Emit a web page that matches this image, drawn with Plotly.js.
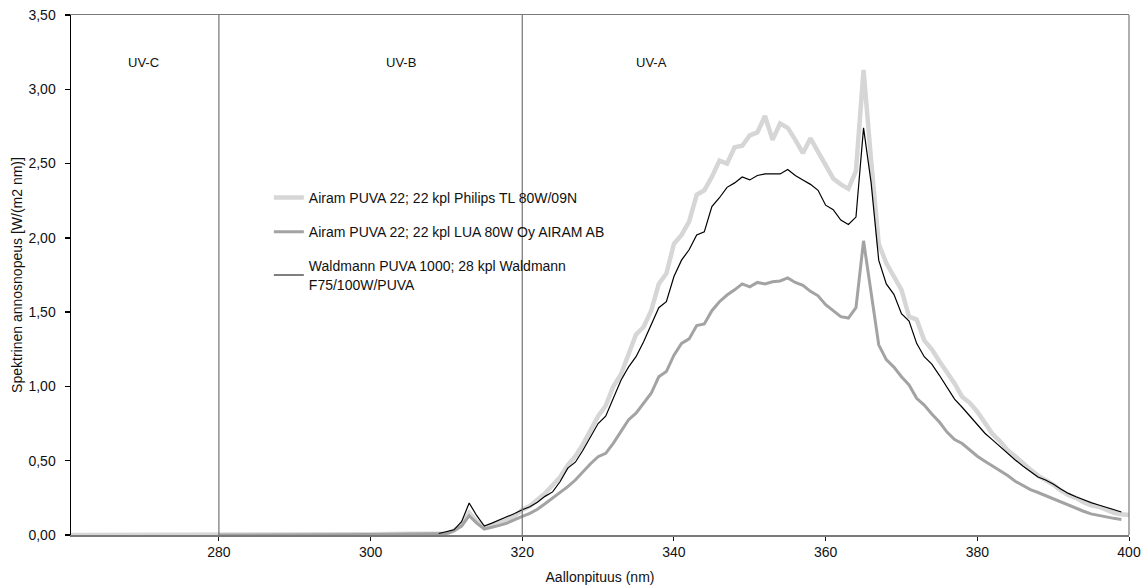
<!DOCTYPE html>
<html>
<head>
<meta charset="utf-8">
<script src="https://cdn.plot.ly/plotly-3.0.1.min.js"></script>
<style>
  html, body { margin: 0; padding: 0; background: #ffffff; }
  #chart { width: 1148px; height: 587px; }
</style>
</head>
<body>
<div id="chart"></div>
<script>
// Wavelength grid (nm) of the measured UV spectra
const wavelength = [
  309, 310, 311, 312, 313, 314, 315, 316, 317, 318, 319, 320, 321, 322, 323, 324, 325, 326, 327, 328,
  329, 330, 331, 332, 333, 334, 335, 336, 337, 338, 339, 340, 341, 342, 343, 344, 345, 346, 347, 348,
  349, 350, 351, 352, 353, 354, 355, 356, 357, 358, 359, 360, 361, 362, 363, 364, 365, 366, 367, 368,
  369, 370, 371, 372, 373, 374, 375, 376, 377, 378, 379, 380, 381, 382, 383, 384, 385, 386, 387, 388,
  389, 390, 391, 392, 393, 394, 395, 396, 397, 398, 399, 400
];

// Short-wave tails where the spectra are practically zero
const philipsTailNm = [260, 270, 280, 290, 300, 305];
const philipsTail   = [0, 0, 0, 0.003, 0.005, 0.008];
const luaTailNm     = [280, 290, 300, 305];
const luaTail       = [0, 0, 0.003, 0.006];

// Airam PUVA 22; 22 kpl Philips TL 80W/09N  (309–400 nm)
const philipsTL = [
  0.01, 0.01, 0.03, 0.07, 0.15, 0.09, 0.05, 0.06, 0.08, 0.10, 0.13, 0.17, 0.195, 0.235, 0.28, 0.335, 0.39, 0.47, 0.53, 0.61,
  0.70, 0.80, 0.87, 1.00, 1.08, 1.22, 1.35, 1.40, 1.51, 1.69, 1.76, 1.96, 2.02, 2.11, 2.29, 2.32, 2.41, 2.52, 2.50, 2.61,
  2.62, 2.69, 2.71, 2.82, 2.66, 2.77, 2.74, 2.66, 2.57, 2.67, 2.58, 2.50, 2.40, 2.36, 2.33, 2.45, 3.13, 2.52, 1.96, 1.83,
  1.74, 1.65, 1.47, 1.45, 1.31, 1.25, 1.17, 1.10, 1.02, 0.93, 0.89, 0.83, 0.75, 0.68, 0.63, 0.57, 0.53, 0.48, 0.44, 0.40,
  0.37, 0.34, 0.30, 0.27, 0.25, 0.22, 0.20, 0.19, 0.17, 0.15, 0.14, 0.135
];

// Airam PUVA 22; 22 kpl LUA 80W Oy AIRAM AB  (309–399 nm)
const luaLamp = [
  0.01, 0.01, 0.03, 0.06, 0.13, 0.08, 0.04, 0.05, 0.065, 0.08, 0.10, 0.125, 0.146, 0.173, 0.21, 0.247, 0.29, 0.325, 0.37, 0.426,
  0.48, 0.527, 0.55, 0.617, 0.695, 0.774, 0.82, 0.886, 0.954, 1.065, 1.10, 1.21, 1.29, 1.32, 1.41, 1.42, 1.51, 1.57, 1.615, 1.65,
  1.69, 1.67, 1.70, 1.69, 1.705, 1.71, 1.73, 1.70, 1.68, 1.64, 1.61, 1.55, 1.51, 1.47, 1.46, 1.53, 1.98, 1.63, 1.28, 1.18,
  1.13, 1.065, 1.01, 0.92, 0.875, 0.815, 0.76, 0.693, 0.643, 0.616, 0.573, 0.53, 0.496, 0.465, 0.435, 0.40, 0.362, 0.333, 0.306, 0.286,
  0.265, 0.245, 0.22, 0.20, 0.179, 0.16, 0.142, 0.131, 0.12, 0.112, 0.105
];

// Waldmann PUVA 1000; 28 kpl Waldmann F75/100W/PUVA  (309–399 nm)
const waldmann = [
  0.01, 0.02, 0.035, 0.09, 0.215, 0.13, 0.06, 0.08, 0.10, 0.12, 0.145, 0.17, 0.19, 0.22, 0.26, 0.29, 0.36, 0.45, 0.49, 0.57,
  0.66, 0.75, 0.80, 0.92, 1.04, 1.13, 1.20, 1.30, 1.41, 1.53, 1.57, 1.74, 1.85, 1.92, 2.02, 2.04, 2.21, 2.27, 2.34, 2.37,
  2.41, 2.39, 2.42, 2.43, 2.43, 2.43, 2.46, 2.42, 2.39, 2.36, 2.32, 2.22, 2.19, 2.12, 2.09, 2.14, 2.74, 2.37, 1.85, 1.69,
  1.62, 1.49, 1.44, 1.29, 1.20, 1.15, 1.075, 0.99, 0.915, 0.86, 0.80, 0.74, 0.685, 0.64, 0.595, 0.545, 0.505, 0.465, 0.425, 0.39,
  0.37, 0.343, 0.31, 0.28, 0.257, 0.236, 0.218, 0.202, 0.187, 0.173, 0.155
];

const seriesNames = [
  'Airam PUVA 22; 22 kpl Philips TL 80W/09N',
  'Airam PUVA 22; 22 kpl LUA 80W Oy AIRAM AB',
  'Waldmann PUVA 1000; 28 kpl Waldmann<br>F75/100W/PUVA'
];

// UV band limits and band labels
const bandEdges = [280, 320];
const bandLabels = ['UV-C', 'UV-B', 'UV-A'];
const bandLabelX = [270, 304, 337];
const bandLabelY = 3.18;

const xTicks = [280, 300, 320, 340, 360, 380, 400];
const yTicks = [0, 0.5, 1, 1.5, 2, 2.5, 3, 3.5];

const FONT = 'Liberation Sans, Arial, Helvetica, sans-serif';
const TXT = '#111111';

const traces = [
  {
    x: philipsTailNm.concat(wavelength),
    y: philipsTail.concat(philipsTL),
    name: seriesNames[0], legendgroup: 'a',
    mode: 'lines', line: { color: '#d6d6d6', width: 4.5 },
    hoverinfo: 'x+y'
  },
  {
    x: luaTailNm.concat(wavelength.slice(0, luaLamp.length)),
    y: luaTail.concat(luaLamp),
    name: seriesNames[1], legendgroup: 'b',
    mode: 'lines', line: { color: '#a3a3a3', width: 3 },
    hoverinfo: 'x+y'
  },
  {
    x: wavelength.slice(0, waldmann.length),
    y: waldmann,
    name: seriesNames[2], legendgroup: 'c',
    mode: 'lines', line: { color: '#000000', width: 1.2 },
    hoverinfo: 'x+y'
  }
];

const shapes = bandEdges.map(function (e) {
  return {
    type: 'line', xref: 'x', yref: 'paper', x0: e, x1: e, y0: 0, y1: 1,
    line: { color: '#737373', width: 1.2 }, layer: 'above'
  };
});
// right-hand frame edge
shapes.push({
  type: 'line', xref: 'paper', yref: 'paper', x0: 1, x1: 1, y0: 0, y1: 1,
  line: { color: '#7a7a7a', width: 1.2 }
});

const annotations = bandLabels.map(function (t, i) {
  return {
    x: bandLabelX[i], y: bandLabelY, xref: 'x', yref: 'y', text: t,
    showarrow: false, font: { family: FONT, size: 13, color: TXT }
  };
});

const layout = {
  width: 1148, height: 587,
  margin: { l: 71, r: 19, t: 15, b: 52 },
  paper_bgcolor: '#ffffff', plot_bgcolor: '#ffffff',
  separators: ', ',
  font: { family: FONT, size: 14, color: TXT },
  showlegend: true,
  legend: {
    x: 0.187, y: 0.679, xanchor: 'left', yanchor: 'top',
    bgcolor: 'rgba(0,0,0,0)', borderwidth: 0,
    font: { family: FONT, size: 14, color: TXT },
    tracegroupgap: 13
  },
  xaxis: {
    range: [260.5, 400], tickvals: xTicks, ticktext: xTicks.map(String),
    ticks: 'outside', ticklen: 4, tickcolor: TXT, tickwidth: 1,
    showline: true, linecolor: '#7a7a7a', linewidth: 1.5, mirror: true,
    showgrid: false, zeroline: false,
    tickfont: { family: FONT, size: 14, color: TXT },
    title: { text: 'Aallonpituus (nm)', standoff: 13, font: { family: FONT, size: 14, color: TXT } }
  },
  xaxis2: {
    range: [260.5, 400], overlaying: 'x', anchor: 'y', side: 'bottom',
    tickvals: xTicks, ticks: 'inside', ticklen: 5, tickcolor: TXT, tickwidth: 1,
    showticklabels: false, showline: false, showgrid: false, zeroline: false
  },
  yaxis: {
    range: [0, 3.5], tickvals: yTicks, tickformat: '.2f',
    ticks: 'outside', ticklen: 5, tickcolor: '#000000', tickwidth: 1.5,
    showline: true, linecolor: '#000000', linewidth: 1.5,
    showgrid: false, zeroline: false, ticklabelstandoff: 6,
    tickfont: { family: FONT, size: 14, color: TXT },
    title: { text: 'Spektrinen annosnopeus [W/(m2 nm)]', standoff: 2, font: { family: FONT, size: 14, color: TXT } }
  },
  shapes: shapes,
  annotations: annotations
};

Plotly.newPlot('chart', traces, layout, { displayModeBar: false, staticPlot: true });
</script>
</body>
</html>
